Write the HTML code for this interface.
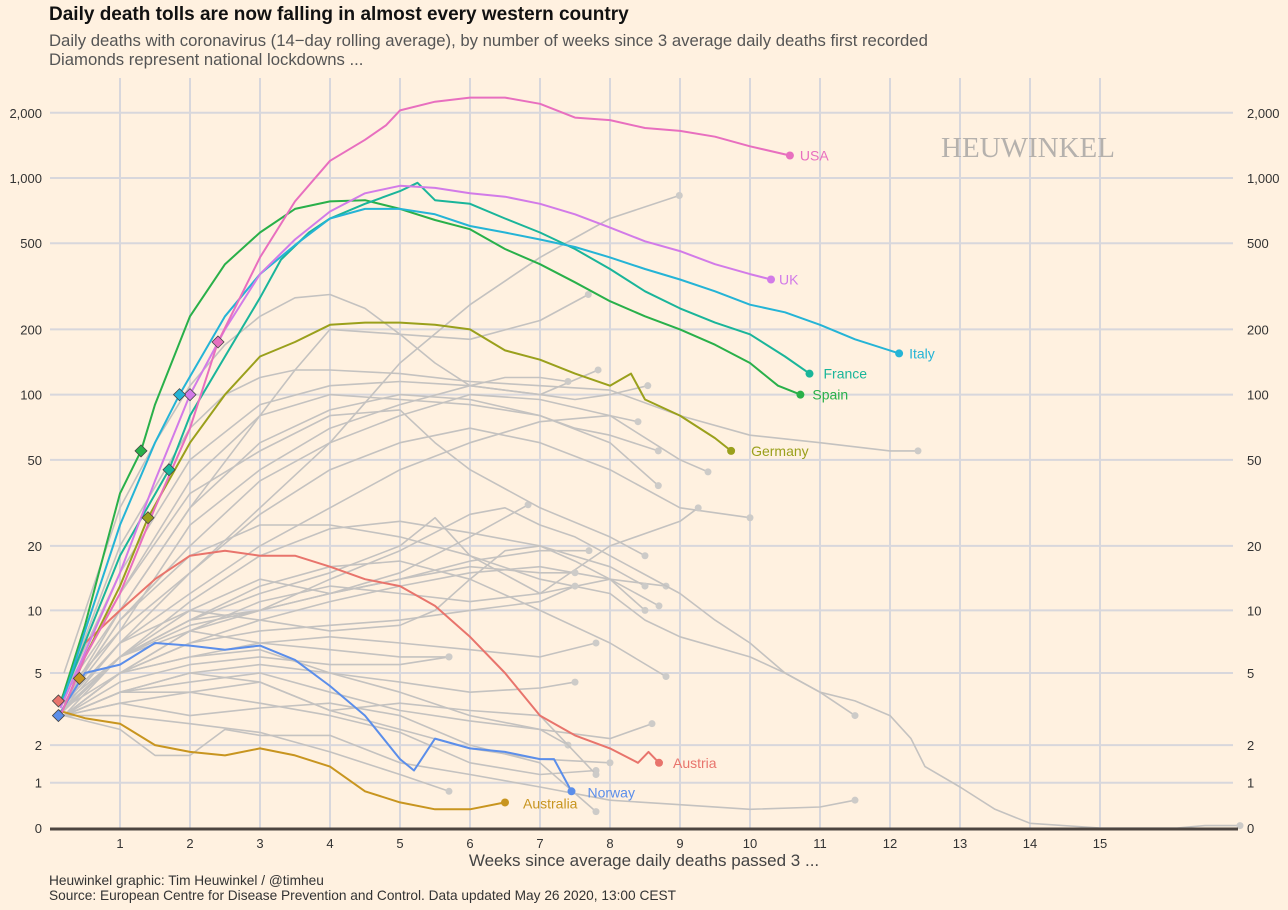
<!DOCTYPE html>
<html><head><meta charset="utf-8">
<style>
html,body{margin:0;padding:0;background:#fff1e0;}
body{width:1288px;height:910px;overflow:hidden;font-family:"Liberation Sans",sans-serif;position:relative;}
.t{position:absolute;white-space:nowrap;}
</style></head>
<body>
<div class="t" style="left:49px;top:4px;font-size:19px;font-weight:bold;color:#111;">Daily death tolls are now falling in almost every western country</div>
<div class="t" style="left:49px;top:31px;font-size:16.7px;color:#555;line-height:19px;">Daily deaths with coronavirus (14−day rolling average), by number of weeks since 3 average daily deaths first recorded<br>Diamonds represent national lockdowns ...</div>
<svg id="chart" width="1288" height="910" style="position:absolute;left:0;top:0;" xmlns="http://www.w3.org/2000/svg"></svg>
<div class="t" style="left:49px;top:873px;font-size:13.7px;color:#333;line-height:15px;">Heuwinkel graphic: Tim Heuwinkel / @timheu<br>Source: European Centre for Disease Prevention and Control. Data updated May 26 2020, 13:00 CEST</div>
<script>
const xTicks=[1,2,3,4,5,6,7,8,9,10,11,12,13,14,15];
const yTicks=[0,1,2,5,10,20,50,100,200,500,1000,2000];
const yTickLabels=["0","1","2","5","10","20","50","100","200","500","1,000","2,000"];
const countries=["USA","UK","Italy","France","Spain","Germany","Austria","Norway","Australia"];
const colors=["#e86fbf","#d27be8","#25b4d6","#1ab59a","#29b04a","#9aa01c","#e8746c","#5b8eea","#c8951f"];
const usa=[[0.15,3],[0.5,6],[1,12],[1.5,30],[2,70],[2.4,175],[3,430],[3.5,780],[4,1200],[4.5,1500],[4.8,1750],[5,2050],[5.5,2250],[6,2350],[6.5,2350],[7,2200],[7.5,1900],[8,1850],[8.5,1700],[9,1650],[9.5,1550],[10,1400],[10.57,1270]];
const uk=[[0.15,3.3],[1,15],[1.5,40],[2,100],[2.5,200],[3,360],[3.5,520],[4,700],[4.5,850],[5,920],[5.5,900],[6,850],[6.5,820],[7,760],[7.5,680],[8,590],[8.5,510],[9,460],[9.5,400],[10,360],[10.3,340]];
const italy=[[0.15,3.3],[0.5,8],[1,25],[1.5,60],[1.85,100],[2.5,230],[3,360],[3.5,490],[4,650],[4.5,720],[5,720],[5.5,680],[6,600],[6.5,560],[7,520],[7.5,480],[8,430],[8.5,380],[9,340],[9.5,300],[10,260],[10.5,240],[11,210],[11.5,180],[12.13,155]];
const france=[[0.15,3.5],[1,18],[1.7,45],[2,80],[2.5,150],[3,280],[3.3,420],[3.7,560],[4,650],[4.5,760],[5,870],[5.25,950],[5.5,790],[6,760],[6.5,650],[7,560],[7.5,470],[8,380],[8.5,300],[9,250],[9.5,215],[10,190],[10.5,150],[10.85,125]];
const spain=[[0.15,3.5],[0.5,8.5],[0.8,20],[1,35],[1.3,55],[1.5,90],[2,230],[2.5,400],[3,560],[3.5,720],[4,780],[4.5,790],[5,720],[5.5,640],[6,580],[6.5,470],[7,400],[7.5,330],[8,270],[8.5,230],[9,200],[9.5,170],[10,140],[10.4,110],[10.72,100]];
const germany=[[0.15,3],[0.5,6],[1,13],[1.4,27],[2,60],[2.5,100],[3,150],[3.5,175],[4,210],[4.5,215],[5,215],[5.5,210],[6,200],[6.5,160],[7,145],[7.5,125],[8,110],[8.3,125],[8.5,95],[9,80],[9.5,63],[9.73,55]];
const austria=[[0.15,3.6],[0.5,7],[1,10],[1.5,14],[2,18],[2.5,19],[3,18],[3.5,18],[4,16],[4.5,14],[5,13],[5.5,10.5],[6,7.5],[6.5,5],[7,3],[7.5,2.3],[8,1.9],[8.4,1.5],[8.55,1.8],[8.7,1.5]];
const norway=[[0.12,3],[0.5,5],[1,5.5],[1.5,7],[2,6.8],[2.5,6.5],[3,6.8],[3.5,5.8],[4,4.3],[4.5,3],[5,1.6],[5.2,1.3],[5.5,2.2],[6,1.9],[6.5,1.8],[7,1.6],[7.2,1.6],[7.45,0.8]];
const australia=[[0.12,3.2],[0.5,2.9],[1,2.7],[1.5,2.0],[2,1.8],[2.5,1.7],[3,1.9],[3.5,1.7],[4,1.4],[4.5,0.8],[5,0.55],[5.5,0.4],[6,0.4],[6.5,0.55]];
const lockdownWeeks=[2.4,2.0,1.85,1.7,1.3,1.4,0.12,0.12,0.42];
const lockdownValues=[175,100,100,45,55,27,3.6,3.0,4.7];
const grey=[
[[0.2,4],[1,8],[2,15],[3,30],[4,60],[5,140],[6,260],[7,430],[8,650],[8.99,830]],
[[0.2,4],[1,10],[2,30],[3,80],[3.5,130],[4,200],[5,190],[6,180],[7,220],[7.69,290]],
[[0.2,5],[1,30],[1.5,60],[2,110],[2.5,170],[3,230],[3.5,280],[4,290],[4.5,250],[5,190],[5.5,140],[6,110],[7,100],[7.83,130]],
[[0.2,4],[1,20],[2,70],[2.5,100],[3,120],[3.5,130],[4,130],[5,125],[6,115],[7,110],[8,105],[9,80],[10,65],[11,60],[12,55],[12.4,55]],
[[0.2,4],[1,15],[2,50],[3,90],[4,110],[5,115],[6,110],[7,100],[7.5,95],[8,100],[8.54,110]],
[[0.2,4],[1,12],[2,40],[3,80],[4,100],[5,95],[6,90],[7,80],[7.5,70],[8,65],[8.69,55]],
[[0.2,3.5],[1,10],[2,30],[3,60],[4,85],[5,100],[6,95],[7,80],[8,60],[8.69,38]],
[[0.2,3.5],[1,8],[2,25],[3,45],[4,70],[5,90],[6,110],[6.5,120],[7,120],[7.4,115]],
[[0.2,3.5],[1,9],[2,20],[3,40],[4,60],[5,80],[6,100],[7,95],[8,80],[9,50],[9.4,44]],
[[0.2,3.5],[1,7],[2,15],[3,28],[4,45],[5,60],[6,70],[7,60],[8,45],[9,30],[10,27]],
[[0.2,3.5],[1,7],[2,12],[3,20],[4,30],[5,45],[6,60],[7,75],[8,80],[8.4,75]],
[[0.2,3.2],[1,6],[2,9],[3,12],[4,15],[5,20],[5.5,27],[6,18],[7,12],[8,20],[9,26],[9.26,30]],
[[0.2,3.2],[1,6],[2,10],[3,14],[4,12],[5,15],[6,22],[6.83,31]],
[[0.2,3.5],[1,9],[2,18],[3,25],[4,25],[5,22],[6,18],[7,14],[8,12],[8.5,9],[9,7.5],[10,6],[10.5,5],[11,4],[11.5,3.6],[12,3],[12.3,2.2],[12.5,1.4],[13,0.9],[13.5,0.4],[14,0.1],[15,0],[16.1,0],[16.5,0.05],[17,0.05]],
[[0.2,3],[1,6],[2,9],[3,10],[4,12],[5,14],[6,17],[7,19],[7.7,19]],
[[0.2,3],[1,5],[2,7],[3,9],[4,11],[5,13],[6,15],[7,16],[8,14],[8.7,10.5]],
[[0.2,3],[1,5],[2,8],[3,11],[4,13],[5,12],[6,11],[7,12],[8,14],[8.8,13]],
[[0.2,3.3],[1,6],[2,9],[3,13],[4,16],[5,17],[6,14],[7,10],[8,7],[8.8,4.8]],
[[0.2,3.3],[1,7],[2,10],[3,9],[4,8],[5,8.5],[5.5,10],[6,14],[6.5,19],[7,20],[7.5,17],[8,14],[8.5,10]],
[[0.2,3],[1,5],[2,6],[3,7],[4,7.5],[5,7],[6,6.5],[7,6],[7.8,7]],
[[0.2,3],[1,4.5],[2,5.5],[3,6],[4,5.5],[5,5.5],[5.7,6]],
[[0.2,3],[1,4],[2,5],[3,5.5],[4,5],[5,4.5],[6,4],[7,4.2],[7.5,4.5]],
[[0.2,3],[1,4],[2,4.5],[3,5],[4,4],[5,3.2],[6,2.8],[7,2.5],[8,2.2],[8.6,2.7]],
[[0.2,3],[1,4],[2,5],[3,4.5],[4,3.2],[5,2.5],[6,1.9],[7,1.6],[8,1.5]],
[[0.2,3],[1,3.5],[2,4],[3,3.5],[4,3],[5,2.4],[6,1.5],[7,1.2],[7.8,1.3]],
[[0.2,3],[1,2.5],[1.5,1.7],[2,1.7],[2.5,2.5],[3,2.3],[4,2.3],[5,1.5],[6,1.2],[7,0.9],[8,0.6],[9,0.5],[10,0.4],[11,0.45],[11.5,0.6]],
[[0.2,3],[1,3],[2,2.7],[3,2.4],[4,1.8],[5,1.2],[5.7,0.8]],
[[0.2,3.3],[1,5],[2,6],[3,6.5],[4,5],[5,4],[6,3],[7,2.5],[7.4,2]],
[[0.2,3.5],[1,6],[2,8],[3,7],[4,6.5],[5,6],[5.7,6]],
[[0.2,3],[1,5],[2,7],[3,8],[4,8.5],[5,9],[6,10],[7,11],[7.5,13]],
[[0.2,3.3],[1,6],[2,8.5],[3,10],[4,12],[5,14],[6,16],[7,15],[7.5,15]],
[[0.2,3],[1,4],[2,4],[3,4.5],[4,3.2],[5,3.5],[6,3.2],[7,3],[7.8,1.2]],
[[0.2,3],[1,5],[2,8],[3,10],[4,14],[5,19],[6,28],[6.5,30],[7,25],[7.5,22],[8,18],[9,12],[9.5,9],[10,7],[10.5,5],[11,4],[11.5,3]],
[[0.2,3.2],[1,6],[2,11],[3,18],[4,24],[5,26],[6,23],[7,20],[8,16],[8.5,13]],
[[0.2,4],[1,12],[2,35],[3,55],[4,80],[5,85],[5.5,60],[6,45],[7,30],[8,22],[8.5,18]],
[[0.2,3],[1,3.5],[2,3],[3,3.3],[4,3.5],[5,3],[6,2],[7,1.5],[7.8,0.35]]
];
const series=[usa,uk,italy,france,spain,germany,austria,norway,australia];

const NS="http://www.w3.org/2000/svg";
const svg=document.getElementById('chart');
function xs(w){return 50+70*w;}
function ys(v){return 828-94.1*Math.asinh(v/2);}
function mk(tag,attrs,parent){const e=document.createElementNS(NS,tag);for(const k in attrs)e.setAttribute(k,attrs[k]);(parent||svg).appendChild(e);return e;}
const gGrid=mk('g',{});


yTicks.forEach((v,i)=>{
  if(v>0){const l=mk('line',{x1:50,x2:1233,y1:ys(v),y2:ys(v),stroke:'#d8d7dc','stroke-width':2},gGrid);
  
  }
  const a=mk('text',{x:42,y:ys(v)+5,'text-anchor':'end','font-size':13,fill:'#333','font-family':'Liberation Sans, sans-serif'});
  a.textContent=yTickLabels[i];
  
  
  const b=mk('text',{x:1247,y:ys(v)+5,'font-size':13,fill:'#333','font-family':'Liberation Sans, sans-serif'});
  b.textContent=yTickLabels[i];
  
  
});
xTicks.forEach(w=>{
  const l=mk('line',{x1:xs(w),x2:xs(w),y1:78,y2:828,stroke:'#d8d7dc','stroke-width':2},gGrid);
  
  
  const t=mk('text',{x:xs(w),y:848,'text-anchor':'middle','font-size':13,fill:'#333','font-family':'Liberation Sans, sans-serif'});
  t.textContent=w;
  
  
});
const wm=mk('text',{x:1028,y:157,'text-anchor':'middle','font-size':29,fill:'#b5b1ad','font-family':'Liberation Serif, serif'});
wm.textContent='HEUWINKEL';


function pts(s){return s.map(p=>xs(p[0]).toFixed(1)+','+ys(p[1]).toFixed(1)).join(' ');}
grey.forEach(s=>{
  const p=mk('polyline',{points:pts(s),fill:'none',stroke:'#c4c2c0','stroke-width':1.6,'stroke-linejoin':'round'});
  
  
  const e=s[s.length-1];
  const c=mk('circle',{cx:xs(e[0]),cy:ys(e[1]),r:3.5,fill:'#cdcbc8'});
  
  
});
const axis=mk('line',{x1:50,x2:1238,y1:829,y2:829,stroke:'#4d4540','stroke-width':3});


const labelOffsets=[[10,5],[8,5],[10,5],[14,5],[12,5],[20,5],[14,5],[16,6],[18,6]];
for(let i=series.length-1;i>=0;i--){
  const s=series[i];
  const p=mk('polyline',{points:pts(s),fill:'none',stroke:colors[i],'stroke-width':2,'stroke-linejoin':'round'});
  
  
  const e=s[s.length-1];
  const c=mk('circle',{cx:xs(e[0]),cy:ys(e[1]),r:4,fill:colors[i]});
  
  
  const t=mk('text',{x:xs(e[0])+labelOffsets[i][0],y:ys(e[1])+labelOffsets[i][1],'font-size':14,fill:colors[i],'font-family':'Liberation Sans, sans-serif'});
  t.textContent=countries[i];
  
  
}
lockdownWeeks.forEach((w,i)=>{
  const x=xs(w),y=ys(lockdownValues[i]);
  const d=mk('polygon',{points:`${x},${y-6} ${x+6},${y} ${x},${y+6} ${x-6},${y}`,fill:colors[i],stroke:'#444','stroke-width':0.8});
  
  
});
const xt=mk('text',{x:644,y:866,'text-anchor':'middle','font-size':17,fill:'#444','font-family':'Liberation Sans, sans-serif'});
xt.textContent='Weeks since average daily deaths passed 3 ...';


</script>
</body></html>
